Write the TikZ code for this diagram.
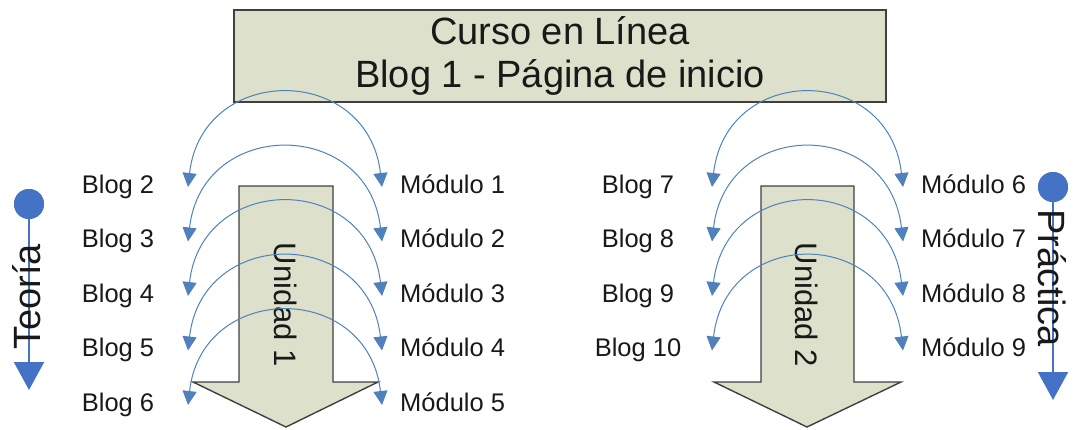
\documentclass[tikz,border=0pt]{standalone}
\usepackage{fontspec}
\setmainfont{Liberation Sans}
\usetikzlibrary{arrows.meta, calc}
\definecolor{boxFill}{RGB}{221,224,203}
\definecolor{lineBlue}{RGB}{79,129,189}
\definecolor{markBlue}{RGB}{68,114,196}
\definecolor{mainBlack}{gray}{0.1}
\definecolor{edgeGray}{gray}{0.25}

\begin{document}
\begin{tikzpicture}[x=1pt, y=-1pt, >={Triangle[length=14pt,width=14pt]},
    itemtext/.style={text=mainBlack, font=\fontsize{25.5}{30}\selectfont, inner sep=0pt},
    bigtext/.style={text=mainBlack, font=\fontsize{38}{43}\selectfont, inner sep=0pt},
    link/.style={<->, lineBlue, line width=1pt},
    unitarrow/.style={fill=boxFill, draw=edgeGray, line width=1.4pt},
    axisline/.style={-{Triangle[length=28pt,width=30pt]}, markBlue, line width=2pt}]
    \useasboundingbox (0,0) rectangle (1073,429);

    \node[draw=edgeGray, line width=1.5pt, fill=boxFill, minimum width=652pt, minimum height=92pt, align=center, font=\fontsize{38}{43}\selectfont, text=mainBlack] (title) at (560,56) {Curso en Línea\\Blog 1 - Página de inicio};

    % Unidad 1
    \draw[unitarrow] (239,186) -- (333,186) -- (333,382) -- (378,382) -- (286,427) -- (193,382) -- (239,382) -- cycle;
    \node[itemtext, font=\fontsize{31}{36}\selectfont, rotate=-90] (unidad1) at (286,305) {Unidad 1};

    % Unidad 2
    \draw[unitarrow] (761,186) -- (854,186) -- (854,382) -- (901,382) -- (807,427) -- (714,382) -- (761,382) -- cycle;
    \node[itemtext, font=\fontsize{31}{36}\selectfont, rotate=-90] (unidad2) at (807,305) {Unidad 2};

    \foreach \i [evaluate=\i as \y using {184+54.5*(\i-2)}, evaluate=\i as \m using {int(\i-1)}] in {2,...,6} {
        \node[itemtext, anchor=base] (blog\i) at (118,\y+9) {Blog \i};
        \node[itemtext, anchor=base west] (mod\m) at (400,\y+9) {Módulo \m};
        \coordinate (bt\i) at (188,\y+3);
        \coordinate (mt\m) at (382,\y+3);
        \draw[link] (bt\i) .. controls +(14,-124) and +(-14,-124) .. (mt\m);
    }

    \foreach \i [evaluate=\i as \y using {184+54.5*(\i-7)}, evaluate=\i as \m using {int(\i-1)}] in {7,...,10} {
        \node[itemtext, anchor=base] (blog\i) at (638,\y+9) {Blog \i};
        \node[itemtext, anchor=base west] (mod\m) at (921,\y+9) {Módulo \m};
        \coordinate (bt\i) at (712,\y+3);
        \coordinate (mt\m) at (903,\y+3);
        \draw[link] (bt\i) .. controls +(14,-124) and +(-14,-124) .. (mt\m);
    }

    % Teoria / Practica
    \coordinate (teoriaEnd) at (29,390);
    \node[circle, fill=markBlue, minimum size=30pt, inner sep=0pt] (teoriaDot) at (29,204) {};
    \draw[axisline] (teoriaDot.center) -- (teoriaEnd);
    \fill[markBlue] (teoriaDot) circle (15pt);
    \node[bigtext, rotate=90] (teoria) at (27,297) {Teoría};

    \coordinate (practicaEnd) at (1053,400);
    \node[circle, fill=markBlue, minimum size=30pt, inner sep=0pt] (practicaDot) at (1053,187) {};
    \draw[axisline] (practicaDot.center) -- (practicaEnd);
    \fill[markBlue] (practicaDot) circle (15pt);
    \node[bigtext, rotate=-90] (practica) at (1052,278) {Práctica};
\end{tikzpicture}
\end{document}
